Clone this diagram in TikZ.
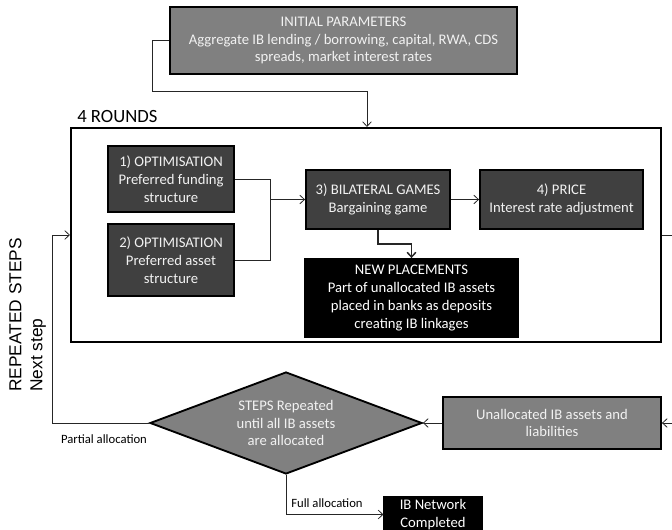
\documentclass[tikz,border=0pt]{standalone}
\usepackage{fontspec}
\setmainfont{Carlito}
\newfontfamily\arialf{Liberation Sans}
\usetikzlibrary{arrows.meta,shapes.geometric}
\definecolor{mgray}{HTML}{808080}
\definecolor{dgray}{HTML}{404040}
\definecolor{ltext}{HTML}{F2F2F2}
\begin{document}
\begin{tikzpicture}[x=0.75pt,y=-0.75pt,
  basebox/.style={draw=black, line width=1.4pt, text=ltext, align=center,
    font=\fontsize{11}{13.4}\selectfont, inner sep=0pt},
  graybox/.style={basebox, fill=mgray},
  darkbox/.style={basebox, fill=dgray},
  blackbox/.style={basebox, fill=black, text=white},
  conn/.style={draw=black!85, line width=0.6pt},
  arr/.style={conn, -{Straight Barb[length=3.5pt,width=6.5pt]}},
  smalllbl/.style={font=\fontsize{9.5}{11}\selectfont, inner sep=0pt}
]
\useasboundingbox (0,0) rectangle (672,530);

% nodes
\node[graybox, minimum width=260.25pt, minimum height=50.25pt] (ip) at (343.5,40.5)
  {INITIAL PARAMETERS\\Aggregate IB lending / borrowing, capital, RWA, CDS\\spreads, market interest rates};

\node[draw=black, line width=1.5pt, minimum width=442.5pt, minimum height=160.5pt, inner sep=0pt] (big) at (366,235) {};
\node[anchor=base west, inner sep=0pt, font=\fontsize{14}{16}\selectfont] (rounds) at (77,123) {4 ROUNDS};

\node[darkbox, minimum width=94.5pt, minimum height=49.5pt] (b1) at (171,179)
  {1) OPTIMISATION\\Preferred funding\\structure};
\node[darkbox, minimum width=94.5pt, minimum height=54pt] (b2) at (171,260)
  {2) OPTIMISATION\\Preferred asset\\structure};
\node[darkbox, minimum width=108pt, minimum height=44.25pt] (b3) at (378,199.5)
  {3) BILATERAL GAMES\\Bargaining game};
\node[darkbox, minimum width=122.25pt, minimum height=44.25pt] (b4) at (561.5,199.5)
  {4) PRICE\\Interest rate adjustment};
\node[blackbox, minimum width=159.75pt, minimum height=58.5pt] (np) at (411.5,298)
  {NEW PLACEMENTS\\Part of unallocated IB assets\\placed in banks as deposits\\creating IB linkages};

\node[graybox, minimum width=163.5pt, minimum height=39pt] (ua) at (552,423)
  {Unallocated IB assets and\\liabilities};

\node[diamond, draw=black, line width=1.4pt, fill=mgray, text=ltext, align=center,
  font=\fontsize{11}{13.4}\selectfont, inner sep=0pt, aspect=2.67,
  minimum width=204pt, minimum height=76.5pt] (dm) at (286,423)
  {STEPS Repeated\\until all IB assets\\are allocated};

\node[blackbox, line width=0.8pt, minimum width=73.5pt, minimum height=26.25pt] (ib) at (433,514.5)
  {IB Network\\Completed};

\node[rotate=90, anchor=west, align=left, inner sep=0pt,
  font=\arialf\fontsize{13}{15.75}\selectfont] (rep) at (27.5,392)
  {REPEATED STEPS\\Next step};

\node[smalllbl] (pl) at (104,439) {Partial allocation};
\node[smalllbl] (fl) at (327,503) {Full allocation};

% connectors
\coordinate (c1) at (152,91);
\coordinate (c2) at (367,91);
\draw[arr] (ip.west) -| (c1) -- (c2) -- (c2 |- big.north);

\coordinate (jn) at (270,199.5);
\draw[conn] (b1.east) -| (jn);
\draw[conn] (b2.east) -| (jn);
\draw[arr] (jn) -- (b3.west);
\draw[arr] (b3.east) -- (b4.west);

\coordinate (k) at (396,244);
\draw[arr, line width=1.1pt] (b3.south) |- (k) -| (np.north);

\coordinate (rt) at (676,235);
\draw[arr] (big.east) -- (rt) |- (ua.east);
\draw[arr] (ua.west) -- (dm.east);

\coordinate (cl) at (52,423);
\draw[arr] (dm.west) -- (cl) |- (big.west);

\draw[arr] (dm.south) |- (ib.west);
\end{tikzpicture}
\end{document}
